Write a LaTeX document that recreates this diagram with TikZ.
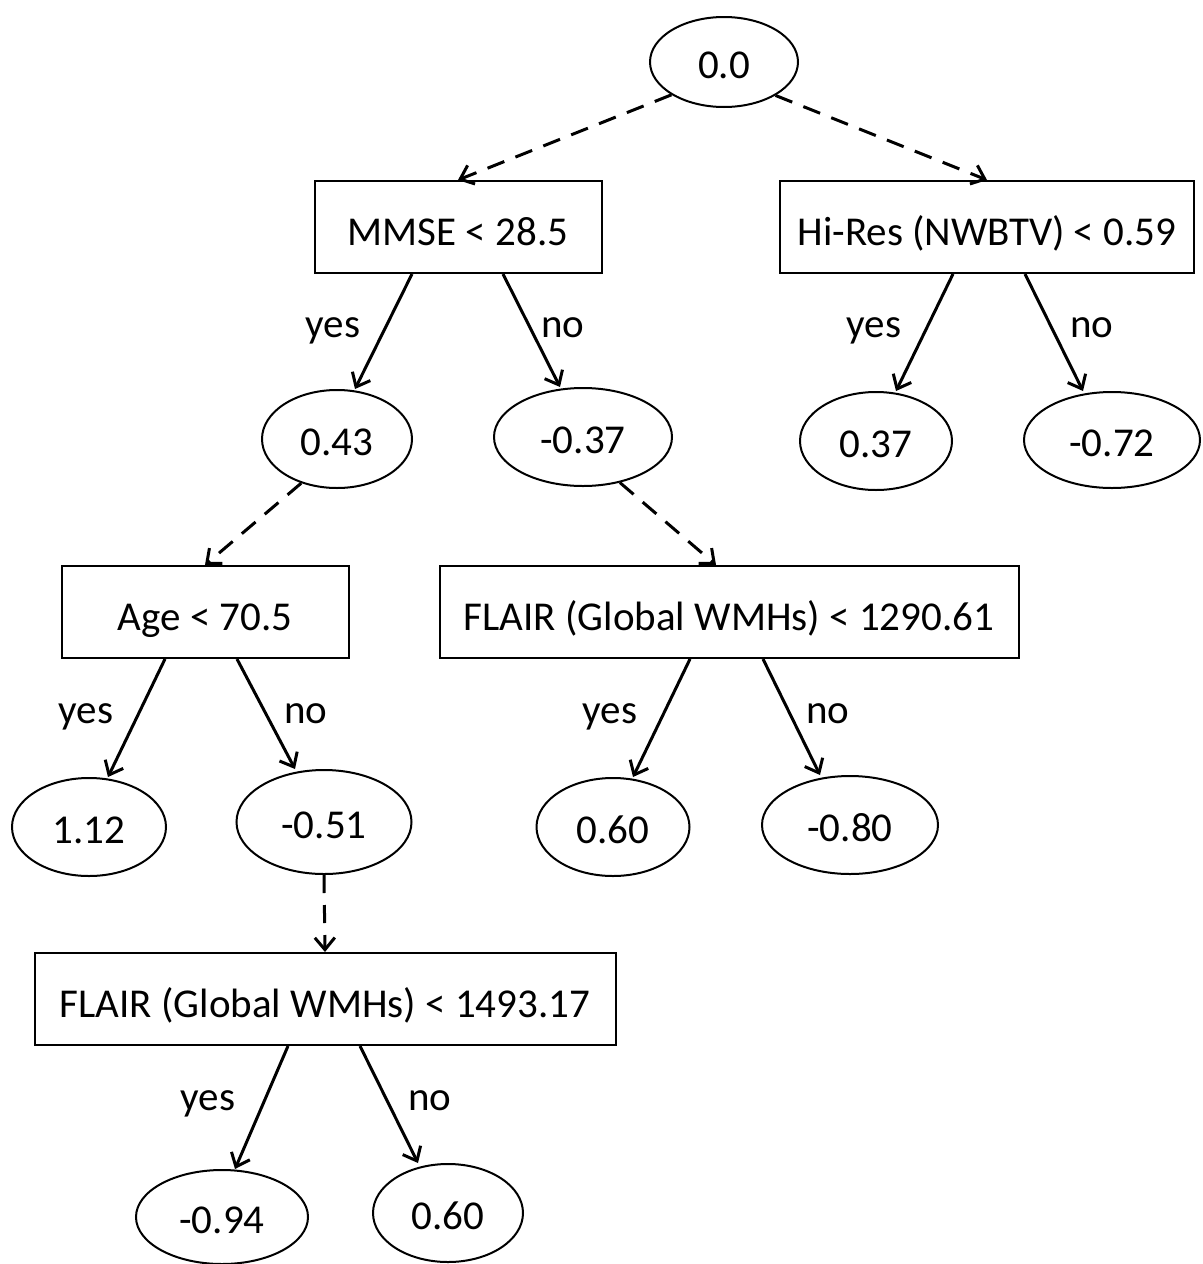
\documentclass[tikz,border=0pt]{standalone}
\usepackage{fontspec}
\setmainfont{Carlito}
\usetikzlibrary{shapes.geometric,arrows.meta}
\begin{document}
\begin{tikzpicture}[x=0.5pt,y=-0.5pt,
 every node/.style={font=\fontsize{20.5}{24}\selectfont},
 leaf/.style={draw, ellipse, line width=1pt, inner sep=0pt, text height=16.4pt, text depth=0pt},
 test/.style={draw, rectangle, line width=1pt, inner sep=0pt, minimum height=46pt, text height=18pt, text depth=0pt},
 dec/.style={line width=1.5pt, -{Straight Barb[length=6pt,width=10pt]}},
 jump/.style={dec, dash pattern=on 9pt off 6pt},
 lab/.style={inner sep=0pt, anchor=base}]
\useasboundingbox (0,0) rectangle (1203,1264);
% nodes
\node[leaf, minimum width=74pt, minimum height=45pt] (root) at (724,62) {0.0};
\node[test, minimum width=143.5pt] (mmse) at (458,227) {MMSE < 28.5};
\node[test, minimum width=207pt] (hires) at (987,227) {Hi-Res (NWBTV) < 0.59};
\node[leaf, minimum width=75pt, minimum height=49pt] (n043) at (337,439) {0.43};
\node[leaf, minimum width=89pt, minimum height=49pt] (n037) at (583,437) {-0.37};
\node[leaf, minimum width=76pt, minimum height=49pt] (p037) at (876,441) {0.37};
\node[leaf, minimum width=88pt, minimum height=48pt] (m072) at (1112,440) {-0.72};
\node[test, minimum width=143.5pt] (age) at (205,612) {Age < 70.5};
\node[test, minimum width=289.5pt] (flair1) at (729,612) {FLAIR (Global WMHs) < 1290.61};
\node[leaf, minimum width=77pt, minimum height=49pt] (n112) at (89,827) {1.12};
\node[leaf, minimum width=87.5pt, minimum height=52pt] (n051) at (324,822) {-0.51};
\node[leaf, minimum width=76.5pt, minimum height=49pt] (n060) at (613,827) {0.60};
\node[leaf, minimum width=88pt, minimum height=49pt] (n080) at (850,825) {-0.80};
\node[test, minimum width=290.5pt] (flair2) at (325,999) {FLAIR (Global WMHs) < 1493.17};
\node[leaf, minimum width=86pt, minimum height=47pt] (n094) at (222,1217) {-0.94};
\node[leaf, minimum width=75pt, minimum height=49pt] (n060b) at (448,1213) {0.60};
% labels
\node[lab] (l1) at (333,337) {yes};
\node[lab] (l2) at (563,337) {no};
\node[lab] (l3) at (874,337) {yes};
\node[lab] (l4) at (1092,337) {no};
\node[lab] (l5) at (86,723) {yes};
\node[lab] (l6) at (306,723) {no};
\node[lab] (l7) at (610,723) {yes};
\node[lab] (l8) at (828,723) {no};
\node[lab] (l9) at (208,1110) {yes};
\node[lab] (l10) at (430,1110) {no};
% edges
\draw[jump] (root.212) -- (mmse.north);
\draw[jump] (root.327) -- (hires.north);
\draw[dec] ([xshift=-23pt]mmse.south) -- ([xshift=9pt]n043.north);
\draw[dec] ([xshift=22.5pt]mmse.south) -- ([xshift=-11.5pt]n037.north);
\draw[dec] ([xshift=-17pt]hires.south) -- ([xshift=10pt]p037.north);
\draw[dec] ([xshift=19pt]hires.south) -- ([xshift=-14.5pt]m072.north);
\draw[jump] (n043.231) -- (age.north);
\draw[jump] (n037.309) -- ([xshift=-6.5pt]flair1.north);
\draw[dec] ([xshift=-20pt]age.south) -- ([xshift=9.5pt]n112.north);
\draw[dec] ([xshift=16pt]age.south) -- ([xshift=-14.5pt]n051.north);
\draw[dec] ([xshift=-19.5pt]flair1.south) -- ([xshift=10pt]n060.north);
\draw[dec] ([xshift=17pt]flair1.south) -- ([xshift=-15pt]n080.north);
\draw[jump] (n051.south) -- (flair2.north);
\draw[dec] ([xshift=-18.5pt]flair2.south) -- ([xshift=6.5pt]n094.north);
\draw[dec] ([xshift=17.5pt]flair2.south) -- ([xshift=-15pt]n060b.north);
\end{tikzpicture}
\end{document}
